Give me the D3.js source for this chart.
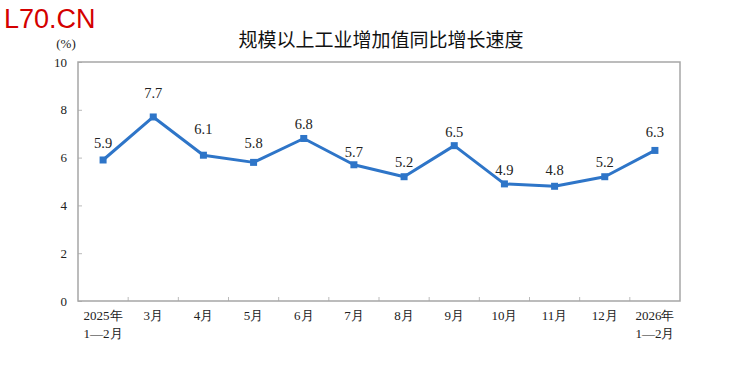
<!DOCTYPE html>
<meta charset="utf-8">
<style>
body { margin: 0; background: #fff; }
.tick text { font-family: "Liberation Serif", serif; font-size: 13px; fill: #222; }
.lbl { font-family: "Liberation Serif", serif; font-size: 14.5px; fill: #222; }
</style>
<svg width="735" height="369"></svg>
<script src="https://cdnjs.cloudflare.com/ajax/libs/d3/7.8.5/d3.min.js"></script>
<script>
var months = ["2025年|1—2月", "3月", "4月", "5月", "6月", "7月", "8月", "9月", "10月", "11月", "12月", "2026年|1—2月"];
var growth = [5.9, 7.7, 6.1, 5.8, 6.8, 5.7, 5.2, 6.5, 4.9, 4.8, 5.2, 6.3];
var yTicks = [0, 2, 4, 6, 8, 10];
// how far each value label sits above its point (px), as placed in the original
var labelLift = [12, 19, 21, 14, 9, 8, 10, 9, 9, 11, 10, 13];

var svg = d3.select("svg"),
    margin = {top: 62, right: 55, bottom: 68, left: 78},
    width = 735 - margin.left - margin.right,
    height = 369 - margin.top - margin.bottom,
    g = svg.append("g").attr("transform", "translate(" + margin.left + "," + margin.top + ")");

// watermark
svg.append("text")
    .attr("x", 4).attr("y", 28)
    .style("font-family", "'Liberation Sans', Arial, sans-serif")
    .style("font-size", "27px")
    .attr("fill", "#d40000")
    .text("L70.CN");

svg.append("text")
    .attr("x", 381).attr("y", 47)
    .attr("text-anchor", "middle")
    .style("font-family", "'Noto Sans CJK SC', sans-serif")
    .style("font-size", "19px")
    .attr("fill", "#111")
    .text("规模以上工业增加值同比增长速度");

svg.append("text")
    .attr("x", 66).attr("y", 48)
    .attr("text-anchor", "middle")
    .attr("class", "lbl")
    .style("font-size", "13px")
    .text("(%)");

var x = d3.scaleBand().domain(months).range([0, width]),
    y = d3.scaleLinear().domain([0, 10]).range([height, 0]);

// y axis
var yAxis = g.append("g")
    .call(d3.axisLeft(y).tickValues(yTicks).tickSize(-4).tickPadding(11));
yAxis.select(".domain").remove();
yAxis.selectAll(".tick line").attr("stroke", "#bbb");

// x axis
var xAxis = g.append("g")
    .attr("transform", "translate(0," + height + ")")
    .call(d3.axisBottom(x).tickSize(0).tickPadding(10));
xAxis.select(".domain").remove();
xAxis.selectAll(".tick text").each(function(d) {
  var parts = d.split("|"), t = d3.select(this).text(null);
  parts.forEach(function(p, i) {
    t.append("tspan").attr("x", 0).attr("dy", i ? "1.4em" : "0.71em").text(p);
  });
});

// category boundary ticks
g.selectAll(".sep")
    .data(months.slice(1))
    .enter().append("line")
    .attr("x1", function(d) { return x(d); })
    .attr("x2", function(d) { return x(d); })
    .attr("y1", height).attr("y2", height - 4)
    .attr("stroke", "#bbb");

// plot frame
g.append("rect")
    .attr("width", width).attr("height", height)
    .attr("fill", "none")
    .attr("stroke", "#a6a6a6")
    .attr("stroke-width", 1.5);

var cx = function(d, i) { return x(months[i]) + x.bandwidth() / 2; };

var line = d3.line()
    .x(cx)
    .y(function(d) { return y(d); });

g.append("path")
    .datum(growth)
    .attr("fill", "none")
    .attr("stroke", "#2e75c8")
    .attr("stroke-width", 3)
    .attr("stroke-linejoin", "round")
    .attr("d", line);

g.selectAll(".pt")
    .data(growth)
    .enter().append("rect")
    .attr("x", function(d, i) { return cx(d, i) - 3.5; })
    .attr("y", function(d) { return y(d) - 3.5; })
    .attr("width", 7).attr("height", 7)
    .attr("fill", "#2e75c8");

g.selectAll(".val")
    .data(growth)
    .enter().append("text")
    .attr("class", "lbl")
    .attr("x", cx)
    .attr("y", function(d, i) { return y(d) - labelLift[i]; })
    .attr("text-anchor", "middle")
    .text(function(d) { return d.toFixed(1); });
</script>
